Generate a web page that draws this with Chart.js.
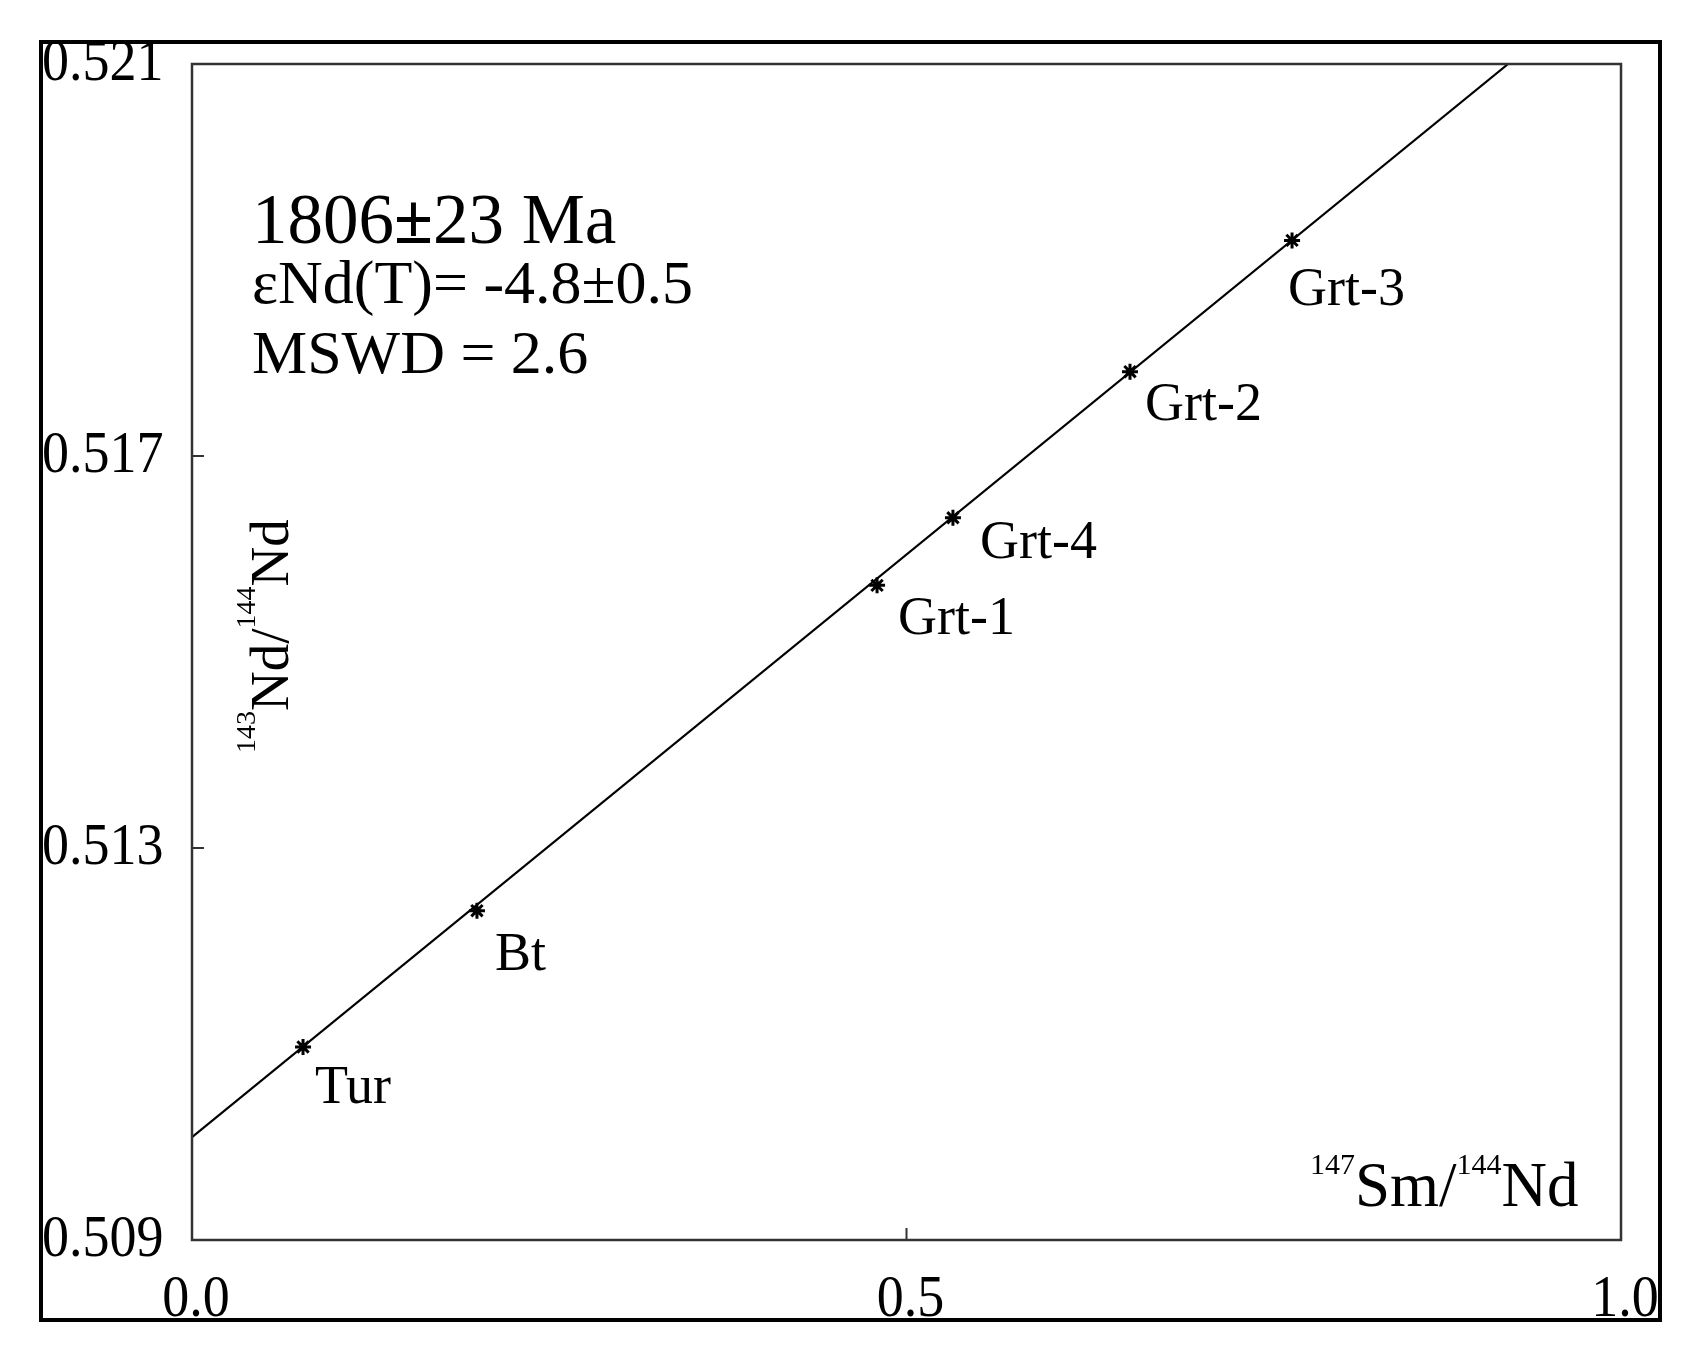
<!DOCTYPE html>
<html lang="en">

<head>
    <meta charset="UTF-8">
    <script src="https://cdn.jsdelivr.net/npm/chart.js@4.4.1/dist/chart.umd.min.js"></script>
    <title>Sm-Nd isochron</title>
    <style>
        body { margin: 0; background: #fff; }
    </style>
</head>

<body>
    <canvas id="myChart" width="1689" height="1354"></canvas>
    <script>
        // samples
        const samples = ['Tur', 'Bt', 'Grt-1', 'Grt-4', 'Grt-2', 'Grt-3'];
        const smNd = [0.0777, 0.1994, 0.4794, 0.5325, 0.6564, 0.7698];
        const ndNd = [0.51097, 0.51236, 0.51568, 0.51637, 0.51786, 0.51920];

        // isochron line end points
        const isoX = [0, 0.921];
        const isoY = [0.51005, 0.521];

        const xTicks = [0, 0.5, 1.0];
        const xTickLabels = ['0.0', '0.5', '1.0'];
        const yTicks = [0.509, 0.513, 0.517, 0.521];
        const yTickLabels = ['0.509', '0.513', '0.517', '0.521'];

        const ageText = ['1806', '\u00b1', '23 Ma'];
        const annotation = ['\u03b5Nd(T)= -4.8\u00b10.5', 'MSWD = 2.6'];

        // label offsets in pixels from each point (layout only)
        const labelOffsets = [[12, 56], [18, 59], [21, 49], [27, 40], [15, 48], [-4, 65]];

        const FONT = '"Liberation Serif", "Times New Roman", serif';

        function txt(ctx, s, x, y, size, align, baseline, sy, weight) {
            ctx.save();
            ctx.font = (weight || '') + ' ' + size + 'px ' + FONT;
            ctx.textAlign = align;
            ctx.textBaseline = baseline;
            ctx.translate(x, y);
            ctx.scale(1, sy || 1);
            ctx.fillText(s, 0, 0);
            const w = ctx.measureText(s).width;
            ctx.restore();
            return w;
        }

        // draws text pieces with superscripts, starting at current origin
        function isoLabel(ctx, parts, main, sup, raise) {
            let x = 0;
            ctx.textAlign = 'left';
            ctx.textBaseline = 'alphabetic';
            parts.forEach(p => {
                ctx.font = (p[0] ? sup : main) + 'px ' + FONT;
                ctx.fillText(p[1], x, p[0] ? -raise : 0);
                x += ctx.measureText(p[1]).width;
            });
        }

        const decor = {
            id: 'decor',
            afterDraw(chart) {
                const ctx = chart.ctx;
                const a = chart.chartArea;
                const xs = chart.scales.x, ys = chart.scales.y;
                ctx.save();
                ctx.fillStyle = '#000';

                // outer frame
                ctx.strokeStyle = '#000';
                ctx.lineWidth = 4;
                ctx.strokeRect(41, 42, 1619, 1278);

                // plot box
                ctx.strokeStyle = '#333';
                ctx.lineWidth = 2.5;
                ctx.strokeRect(a.left, a.top, a.right - a.left, a.bottom - a.top);

                // inward ticks
                ctx.lineWidth = 2;
                yTicks.forEach(v => {
                    const py = ys.getPixelForValue(v);
                    ctx.beginPath(); ctx.moveTo(a.left, py); ctx.lineTo(a.left + 12, py); ctx.stroke();
                });
                xTicks.forEach(v => {
                    const px = xs.getPixelForValue(v);
                    ctx.beginPath(); ctx.moveTo(px, a.bottom); ctx.lineTo(px, a.bottom - 12); ctx.stroke();
                });

                // tick labels
                yTicks.forEach((v, i) => {
                    txt(ctx, yTickLabels[i], 42, ys.getPixelForValue(v), 54, 'left', 'middle', 1.1);
                });
                xTicks.forEach((v, i) => {
                    txt(ctx, xTickLabels[i], xs.getPixelForValue(v) + 4, 1316, 54, 'center', 'alphabetic', 1.1);
                });

                // axis titles
                ctx.save();
                ctx.translate(1310, 1206);
                isoLabel(ctx, [[1, '147'], [0, 'Sm/'], [1, '144'], [0, 'Nd']], 63, 30, 32);
                ctx.restore();

                ctx.save();
                ctx.translate(288, 753);
                ctx.rotate(-Math.PI / 2);
                isoLabel(ctx, [[1, '143'], [0, 'Nd/'], [1, '144'], [0, 'Nd']], 55, 28, 33);
                ctx.restore();

                // sample labels
                samples.forEach((s, i) => {
                    const px = xs.getPixelForValue(smNd[i]);
                    const py = ys.getPixelForValue(ndNd[i]);
                    txt(ctx, s, px + labelOffsets[i][0], py + labelOffsets[i][1], 54, 'left', 'alphabetic');
                });

                // age annotation
                let ax = 252;
                ax += txt(ctx, ageText[0], ax, 243, 71, 'left', 'alphabetic');
                ax += txt(ctx, ageText[1], ax, 243, 71, 'left', 'alphabetic', 1, 'bold');
                txt(ctx, ageText[2], ax, 243, 71, 'left', 'alphabetic');
                txt(ctx, annotation[0], 252, 303, 62, 'left', 'alphabetic');
                txt(ctx, annotation[1], 252, 373, 62, 'left', 'alphabetic');

                ctx.restore();
            }
        };

        const ctx = document.getElementById('myChart').getContext('2d');
        const myChart = new Chart(ctx, {
            type: 'scatter',
            data: {
                datasets: [{
                    label: 'Isochron',
                    data: isoX.map((x, i) => ({ x: x, y: isoY[i] })),
                    showLine: true,
                    borderColor: '#000',
                    borderWidth: 2.2,
                    pointRadius: 0,
                    fill: false
                }, {
                    label: 'Samples',
                    data: smNd.map((x, i) => ({ x: x, y: ndNd[i] })),
                    pointStyle: 'star',
                    pointRadius: 8,
                    borderColor: '#000',
                    backgroundColor: '#000',
                    borderWidth: 3
                }]
            },
            options: {
                responsive: false,
                animation: false,
                devicePixelRatio: 1,
                layout: {
                    padding: { left: 192, top: 64, right: 68, bottom: 114 }
                },
                plugins: {
                    legend: { display: false },
                    tooltip: { enabled: false }
                },
                scales: {
                    x: { type: 'linear', min: 0, max: 1.0, display: false },
                    y: { type: 'linear', min: 0.509, max: 0.521, display: false }
                }
            },
            plugins: [decor]
        });
    </script>
</body>

</html>
